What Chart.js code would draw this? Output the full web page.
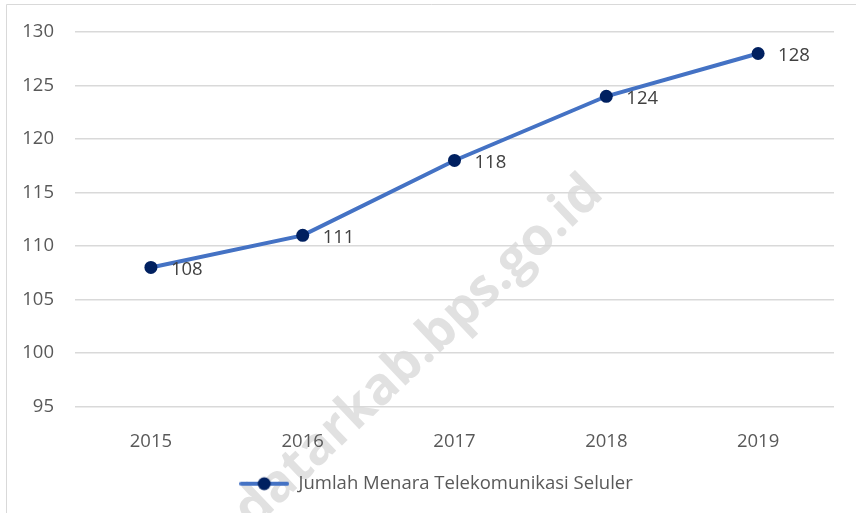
<!DOCTYPE html>
<html>
<head>
<meta charset="utf-8">
<script src="https://cdn.jsdelivr.net/npm/chart.js@4"></script>
<style>
  html, body { margin: 0; padding: 0; background: #fff; }
  #wrap { position: relative; width: 856px; height: 513px; }
</style>
</head>
<body>
<div id="wrap"><canvas id="line-chart" width="856" height="513"></canvas></div>
<script>
// Data chart
const years = ['2015', '2016', '2017', '2018', '2019'];
const towers = [108, 111, 118, 124, 128];
const seriesName = 'Jumlah Menara Telekomunikasi Seluler';
const yMin = 95, yMax = 130, yStep = 5;

const FONT = "'Open Sans', 'Noto Sans', sans-serif";
const FSIZE = 18.5;
const TEXT = '#595959';
const LINE = '#4472C4';
const MARK = '#002060';

// Gambar ikon legenda (garis + titik)
function legendIcon() {
    const c = document.createElement('canvas');
    c.width = 50; c.height = 16;
    const g = c.getContext('2d');
    g.strokeStyle = LINE; g.lineWidth = 4; g.lineCap = 'round';
    g.beginPath(); g.moveTo(2, 8); g.lineTo(48, 8); g.stroke();
    g.fillStyle = MARK;
    g.beginPath(); g.arc(25, 8, 6.5, 0, Math.PI * 2); g.fill();
    return c;
}

// Watermark dan bingkai
const backdrop = {
    id: 'backdrop',
    afterLayout(chart) {
        // geser legenda sedikit ke kanan seperti aslinya
        chart.legend.left += 19;
        chart.legend.right += 19;
    },
    beforeDraw(chart) {
        const ctx = chart.ctx;
        ctx.save();
        ctx.strokeStyle = '#d9d9d9';
        ctx.lineWidth = 1;
        ctx.beginPath();
        ctx.moveTo(6.5, 600); ctx.lineTo(6.5, 4.5); ctx.lineTo(900, 4.5);
        ctx.stroke();
        ctx.translate(419, 352);
        ctx.rotate(-43.5 * Math.PI / 180);
        ctx.font = "bold 52px 'Open Sans', sans-serif";
        ctx.fillStyle = '#e1e1e1';
        ctx.textAlign = 'center';
        ctx.textBaseline = 'middle';
        ctx.fillText('datarkab.bps.go.id', 0, 0);
        ctx.restore();
    }
};

// Label nilai di kanan titik
const valueLabels = {
    id: 'valueLabels',
    afterDatasetsDraw(chart) {
        const ctx = chart.ctx;
        const meta = chart.getDatasetMeta(0);
        ctx.save();
        ctx.font = FSIZE + 'px ' + FONT;
        ctx.fillStyle = '#404040';
        ctx.textAlign = 'left';
        ctx.textBaseline = 'middle';
        meta.data.forEach((pt, i) => {
            ctx.fillText(String(towers[i]), pt.x + 20, pt.y + 2);
        });
        ctx.restore();
    }
};

new Chart(document.getElementById('line-chart').getContext('2d'), {
    type: 'line',
    data: {
        labels: years,
        datasets: [{
            label: seriesName,
            data: towers,
            borderColor: LINE,
            borderWidth: 4,
            pointRadius: 6.5,
            pointBackgroundColor: MARK,
            pointBorderColor: MARK,
            pointBorderWidth: 0,
            pointStyle: 'circle',
            tension: 0
        }]
    },
    options: {
        responsive: false,
        animation: false,
        layout: { padding: { left: 0, right: 22, top: 31, bottom: 10 } },
        plugins: {
            legend: {
                position: 'bottom',
                labels: {
                    usePointStyle: true,
                    pointStyleWidth: 50,
                    generateLabels: () => [{
                        text: seriesName,
                        pointStyle: legendIcon(),
                        fillStyle: MARK,
                        strokeStyle: LINE,
                        lineWidth: 0,
                        fontColor: TEXT,
                        datasetIndex: 0
                    }],
                    font: { family: FONT, size: FSIZE },
                    color: TEXT,
                    padding: 10
                }
            },
            tooltip: { enabled: false }
        },
        scales: {
            x: {
                offset: true,
                grid: { display: false },
                border: { display: false },
                ticks: { font: { family: FONT, size: FSIZE }, color: TEXT, padding: 16 },
                afterFit(scale) { scale.height = 58; }
            },
            y: {
                min: yMin,
                max: yMax,
                grid: { color: '#d9d9d9', lineWidth: 1.5, drawTicks: false },
                border: { display: false },
                ticks: { stepSize: yStep, font: { family: FONT, size: FSIZE }, color: TEXT, padding: 21 },
                afterFit(scale) { scale.width = 75; }
            }
        }
    },
    plugins: [backdrop, valueLabels]
});
</script>
</body>
</html>
